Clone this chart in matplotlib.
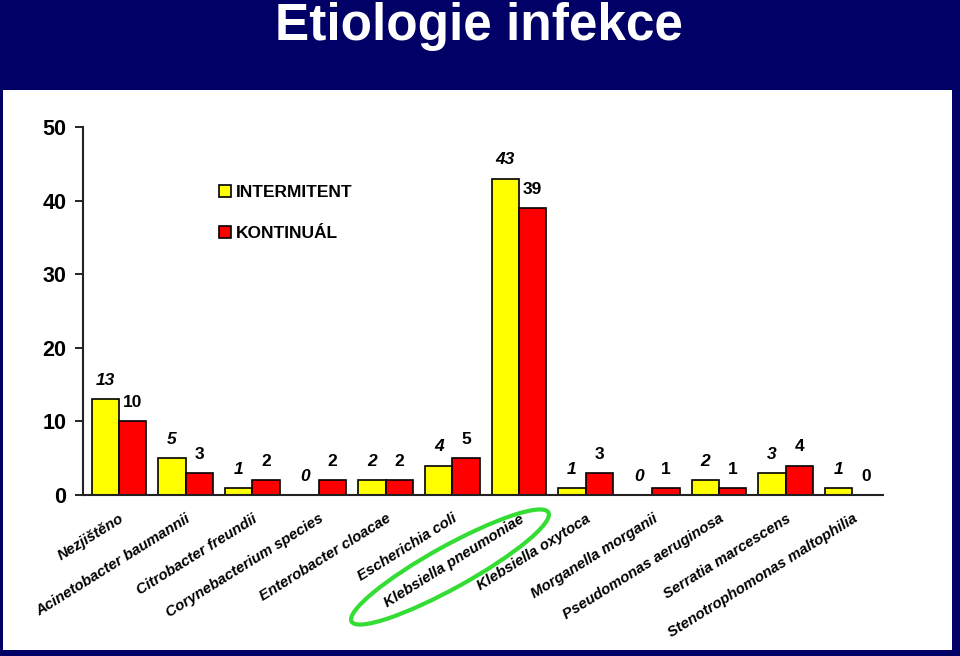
#!/usr/bin/env python3
"""Etiologie infekce - grouped bar chart"""
import numpy as np
import matplotlib
matplotlib.use("Agg")
from matplotlib import pyplot as plt
from matplotlib.patches import Rectangle, Ellipse
from matplotlib.transforms import IdentityTransform

# Data
categories = ["Nezjištěno", "Acinetobacter baumannii", "Citrobacter freundii",
              "Corynebacterium species", "Enterobacter cloacae", "Escherichia coli",
              "Klebsiella pneumoniae", "Klebsiella oxytoca", "Morganella morganii",
              "Pseudomonas aeruginosa", "Serratia marcescens",
              "Stenotrophomonas maltophilia"]
intermitent = [13, 5, 1, 0, 2, 4, 43, 1, 0, 2, 3, 1]
kontinual = [10, 3, 2, 2, 2, 5, 39, 3, 1, 1, 4, 0]
series_names = ["INTERMITENT", "KONTINUÁL"]
yticks = [0, 10, 20, 30, 40, 50]

plt.rcParams['font.family'] = ['Liberation Sans', 'DejaVu Sans']
navy = "#000066"

fig = plt.figure(figsize=(9.6, 6.56), dpi=100, facecolor=navy)

# White panel
fig.add_artist(Rectangle((3 / 960, 6 / 656), 949 / 960, 560 / 656,
                         transform=fig.transFigure, facecolor="white",
                         edgecolor="none", zorder=0))

# Title
fig.text(0.499, (656 - 40) / 656, "Etiologie infekce", color="white",
         fontsize=37, fontweight="bold", ha="center", va="baseline")

ax = fig.add_axes([83 / 960, 161 / 656, 800 / 960, 368 / 656])
ax.set_facecolor("none")

x = np.arange(len(categories))
w = 0.41
ax.bar(x - w / 2, intermitent, w, color="#ffff00", edgecolor="black",
       linewidth=1.2, label=series_names[0], zorder=2)
ax.bar(x + w / 2, kontinual, w, color="#ff0000", edgecolor="black",
       linewidth=1.2, label=series_names[1], zorder=2)

# Value labels: italic for INTERMITENT, upright for KONTINUÁL
for xi, v in zip(x - w / 2, intermitent):
    ax.annotate(str(v), (xi, v), xytext=(0, 8), textcoords="offset points",
                ha="center", va="bottom", fontsize=12.5, fontweight="bold",
                fontstyle="italic")
for xi, v in zip(x + w / 2, kontinual):
    ax.annotate(str(v), (xi, v), xytext=(0, 8), textcoords="offset points",
                ha="center", va="bottom", fontsize=12.5, fontweight="bold")

ax.set_xlim(-0.54, len(categories) - 0.54)
ax.set_ylim(0, 50)
ax.set_yticks(yticks)
ax.tick_params(axis="y", labelsize=15.5, length=6, width=1.2, pad=6,
               colors="black")
for lab in ax.get_yticklabels():
    lab.set_fontweight("bold")

ax.set_xticks(x)
ax.set_xticklabels(categories, rotation=32, ha="right",
                   rotation_mode="anchor", fontsize=10.8, fontweight="bold",
                   fontstyle="italic")
ax.tick_params(axis="x", length=0, pad=12)

for s in ["top", "right"]:
    ax.spines[s].set_visible(False)
for s in ["left", "bottom"]:
    ax.spines[s].set_color("#222222")
    ax.spines[s].set_linewidth(1.5)

ax.legend(loc="upper left", bbox_to_anchor=(0.15, 0.885), frameon=False,
          prop={"weight": "bold", "size": 12.5}, handlelength=0.7,
          handleheight=0.7, handletextpad=0.3, labelspacing=1.5)

# Green highlight ellipse around Klebsiella pneumoniae (pixel coords)
fig.add_artist(Ellipse((450, 656 - 567), 225, 42, angle=29, fill=False,
                       edgecolor="#33dd33", linewidth=3,
                       transform=IdentityTransform()))

fig.savefig("out.png", dpi=100, facecolor=navy)
